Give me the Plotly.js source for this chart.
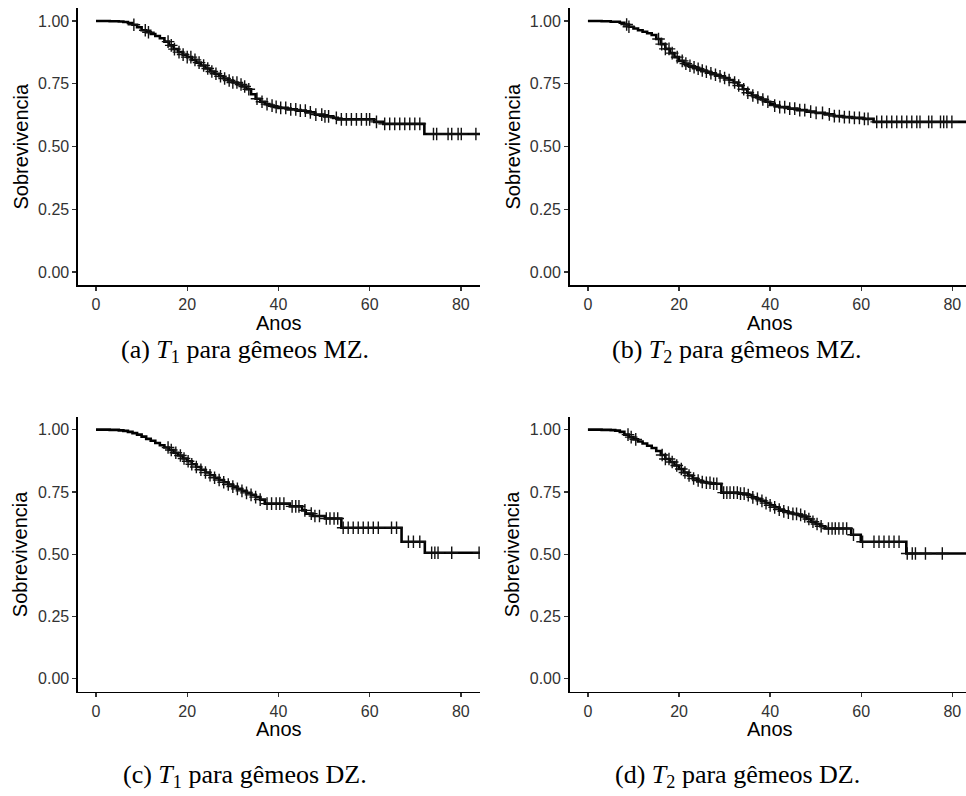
<!DOCTYPE html>
<html>
<head>
<meta charset="utf-8">
<script src="https://cdn.plot.ly/plotly-3.0.1.min.js"></script>
<style>html,body{margin:0;padding:0;background:#fff;}#chart{width:966px;height:796px;}</style>
</head>
<body>
<div id="chart"></div>
<script>
// ---- Data ----
// Panel (a): T1, MZ twins
const aTime = [0, 3, 5, 6, 7, 8, 9, 10, 11, 12, 13, 14, 15, 16, 17, 18, 19, 20, 21, 22, 23, 24, 25, 26, 27, 28, 29, 30, 31, 32, 33, 34, 35, 36, 37, 38, 39, 40, 42, 44, 46, 48, 50, 52, 53, 61, 63, 72, 84.2];
const aSurv = [1.0, 0.999, 0.998, 0.996, 0.992, 0.985, 0.975, 0.963, 0.955, 0.948, 0.940, 0.931, 0.918, 0.903, 0.888, 0.876, 0.866, 0.856, 0.845, 0.834, 0.823, 0.811, 0.799, 0.790, 0.780, 0.771, 0.763, 0.755, 0.747, 0.739, 0.728, 0.708, 0.690, 0.678, 0.669, 0.663, 0.658, 0.654, 0.648, 0.643, 0.636, 0.627, 0.620, 0.614, 0.608, 0.598, 0.590, 0.550, 0.550];
const aCens = [8.3, 10.8, 11.5, 15.8, 16.5, 17.2, 18.2, 19.1, 20.0, 20.8, 21.7, 22.6, 23.6, 24.5, 25.4, 26.3, 27.3, 28.2, 29.2, 30.0, 30.9, 31.8, 32.6, 33.5, 35.3, 36.4, 37.5, 38.6, 39.5, 40.5, 41.6, 42.7, 43.8, 44.8, 45.9, 47.0, 48.2, 49.5, 50.2, 51.0, 52.7, 53.8, 54.9, 56.0, 57.1, 58.2, 59.3, 60.0, 61.5, 63.3, 64.4, 65.5, 66.6, 67.7, 68.8, 69.9, 71.0, 74.0, 74.7, 77.2, 78.0, 79.4, 80.1, 83.3];

// Panel (b): T2, MZ twins
const bTime = [0, 3, 5, 7, 8, 9, 10, 11, 12, 13, 14, 15, 16, 17, 18, 19, 20, 21, 22, 23, 24, 25, 26, 27, 28, 29, 30, 31, 32, 33, 34, 35, 36, 37, 38, 39, 40, 41, 42, 44, 46, 48, 50, 52, 54, 56, 58, 60.5, 62.7, 83.0];
const bSurv = [1.0, 0.999, 0.997, 0.993, 0.986, 0.977, 0.970, 0.963, 0.957, 0.951, 0.944, 0.928, 0.908, 0.889, 0.872, 0.856, 0.841, 0.830, 0.822, 0.816, 0.810, 0.803, 0.798, 0.792, 0.786, 0.780, 0.773, 0.765, 0.755, 0.743, 0.728, 0.714, 0.703, 0.695, 0.687, 0.678, 0.670, 0.663, 0.657, 0.651, 0.645, 0.639, 0.634, 0.628, 0.621, 0.617, 0.614, 0.610, 0.598, 0.598];
const bCens = [8.5, 9.0, 15.5, 16.2, 17.0, 17.8, 18.5, 19.6, 20.7, 21.5, 22.4, 23.3, 24.2, 25.1, 26.0, 27.0, 28.0, 29.0, 30.0, 31.0, 32.2, 33.1, 34.2, 35.1, 36.2, 37.3, 38.4, 39.5, 41.0, 42.1, 43.2, 44.3, 45.4, 46.5, 47.6, 48.9, 50.1, 51.5, 53.0, 54.1, 55.2, 56.3, 57.4, 58.5, 59.6, 60.7, 61.5, 63.4, 64.5, 65.6, 66.7, 67.8, 68.9, 70.0, 71.1, 72.2, 72.9, 74.8, 75.5, 77.4, 78.1, 78.8, 79.9];

// Panel (c): T1, DZ twins
const cTime = [0, 3, 5, 6, 7, 8, 9, 10, 11, 12, 13, 14, 15, 16, 17, 18, 19, 20, 21, 22, 23, 24, 25, 26, 27, 28, 29, 30, 31, 32, 33, 34, 35, 36, 37, 42.5, 45.2, 46, 47.5, 50.2, 53.8, 67, 72.1, 84.2];
const cSurv = [1.0, 0.999, 0.997, 0.995, 0.991, 0.986, 0.980, 0.972, 0.963, 0.955, 0.946, 0.937, 0.928, 0.918, 0.907, 0.896, 0.884, 0.873, 0.861, 0.850, 0.839, 0.828, 0.817, 0.807, 0.798, 0.789, 0.780, 0.771, 0.762, 0.754, 0.746, 0.738, 0.729, 0.719, 0.703, 0.692, 0.676, 0.663, 0.653, 0.643, 0.606, 0.550, 0.506, 0.506];
const cCens = [15.8, 16.5, 17.5, 18.5, 19.3, 20.2, 21.0, 22.0, 23.0, 24.0, 25.0, 26.0, 27.0, 28.0, 29.0, 30.0, 31.0, 32.0, 33.0, 34.0, 35.0, 36.0, 37.5, 38.5, 39.5, 40.3, 41.2, 43.0, 43.8, 44.5, 45.8, 47.2, 48.0, 49.0, 50.5, 51.3, 52.2, 53.0, 54.2, 55.3, 56.4, 57.5, 58.6, 59.7, 60.8, 61.9, 64.8, 65.9, 68.5, 69.6, 71.0, 73.6, 74.3, 75.0, 78.0, 84.0];

// Panel (d): T2, DZ twins
const dTime = [0, 3, 5, 6, 7, 8, 9, 10, 11, 12, 13, 14, 15, 16, 17, 18, 19, 20, 21, 22, 23, 24, 25, 26, 27, 29.3, 33, 35, 36, 37, 38, 39, 40, 41, 42, 43, 44, 45, 46, 47, 48, 49, 50, 51, 52, 57.8, 59.9, 69.9, 83.0];
const dSurv = [1.0, 0.999, 0.998, 0.996, 0.991, 0.980, 0.970, 0.961, 0.952, 0.944, 0.935, 0.926, 0.914, 0.898, 0.882, 0.870, 0.856, 0.842, 0.828, 0.816, 0.804, 0.796, 0.790, 0.787, 0.783, 0.747, 0.743, 0.737, 0.728, 0.722, 0.714, 0.705, 0.696, 0.688, 0.679, 0.672, 0.667, 0.662, 0.658, 0.651, 0.641, 0.630, 0.621, 0.612, 0.603, 0.578, 0.550, 0.503, 0.503];
const dCens = [8.8, 9.5, 10.5, 16.3, 17.0, 17.8, 18.5, 19.5, 20.5, 21.3, 22.2, 23.2, 24.2, 25.1, 26.0, 26.8, 27.6, 28.3, 29.8, 30.5, 31.2, 32.0, 32.8, 33.5, 34.3, 35.2, 36.2, 37.2, 38.2, 39.1, 40.0, 41.0, 42.0, 43.0, 44.0, 45.0, 45.8, 46.7, 47.6, 48.5, 49.4, 50.3, 51.2, 52.8, 53.6, 54.3, 55.1, 56.0, 56.8, 58.3, 60.3, 62.8, 63.9, 65.0, 66.1, 67.2, 68.3, 70.1, 71.2, 71.9, 74.1, 77.8];

const xTicks = [0, 20, 40, 60, 80];
const yTicks = [0, 0.25, 0.5, 0.75, 1.0];
const xTitle = "Anos";
const yTitle = "Sobrevivencia";
const captions = [
  "(a) <i>T</i><sub>1</sub> para gêmeos MZ.",
  "(b) <i>T</i><sub>2</sub> para gêmeos MZ.",
  "(c) <i>T</i><sub>1</sub> para gêmeos DZ.",
  "(d) <i>T</i><sub>2</sub> para gêmeos DZ."
];

// ---- Helpers ----
function stepAt(times, surv, t) {
  let v = surv[0];
  for (let i = 0; i < times.length; i++) { if (times[i] <= t) v = surv[i]; else break; }
  return v;
}

const W = 966, H = 796;
const px = v => v / W;
const py = v => 1 - v / H;

// panel pixel boxes [left, right, top, bottom]
const boxes = [
  [78, 480, 8, 285],
  [569.7, 966, 8, 285],
  [78, 480, 416.7, 691.7],
  [569.7, 966, 416.7, 691.7]
];
const xRanges = [[-3.95, 84.2], [-4.0, 83.0], [-3.95, 84.2], [-4.0, 83.0]];

const series = [
  [aTime, aSurv, aCens],
  [bTime, bSurv, bCens],
  [cTime, cSurv, cCens],
  [dTime, dSurv, dCens]
];

const data = [];
const layout = {
  width: W, height: H,
  margin: {l: 0, r: 0, t: 0, b: 0},
  paper_bgcolor: "#fff", plot_bgcolor: "#fff",
  showlegend: false,
  font: {family: "Liberation Sans, Arial, sans-serif", color: "#000"},
  annotations: []
};

series.forEach((s, i) => {
  const n = i === 0 ? "" : String(i + 1);
  const xa = "x" + n, ya = "y" + n;
  const [time, surv, cens] = s;
  data.push({
    x: time, y: surv, xaxis: xa, yaxis: ya,
    type: "scatter", mode: "lines",
    line: {shape: "hv", color: "#000", width: 2.6},
    hoverinfo: "skip"
  });
  data.push({
    x: cens, y: cens.map(t => stepAt(time, surv, t)), xaxis: xa, yaxis: ya,
    type: "scatter", mode: "markers",
    marker: {symbol: "cross-thin", size: 9, line: {color: "#111", width: 1.4}, color: "#111"},
    hoverinfo: "skip"
  });
  const b = boxes[i];
  layout["xaxis" + n] = {
    domain: [px(b[0]), px(b[1])], anchor: ya, range: xRanges[i],
    tickvals: xTicks, ticktext: xTicks.map(String),
    showline: true, linecolor: "#000", linewidth: 1.6, mirror: false,
    ticks: "outside", ticklen: 4, tickwidth: 1.4, tickcolor: "#333",
    tickfont: {size: 16, color: "#333", family: "Liberation Sans, Arial, sans-serif"},
    showgrid: false, zeroline: false, automargin: false, fixedrange: true
  };
  layout["yaxis" + n] = {
    domain: [py(b[3]), py(b[2])], anchor: xa, range: [-0.0518, 1.0518],
    tickvals: yTicks, ticktext: yTicks.map(v => v.toFixed(2)),
    showline: true, linecolor: "#000", linewidth: 1.6, mirror: false,
    ticks: "outside", ticklen: 4, tickwidth: 1.4, tickcolor: "#333",
    tickfont: {size: 16, color: "#333", family: "Liberation Sans, Arial, sans-serif"},
    showgrid: false, zeroline: false, automargin: false, fixedrange: true
  };
  // axis titles
  const xCenter = i % 2 === 0 ? 279 : 770;
  const yTitleX = i % 2 === 0 ? 20 : 512;
  layout.annotations.push({
    text: xTitle, xref: "paper", yref: "paper",
    x: px(xCenter), y: py(b[3] + 37.5), xanchor: "center", yanchor: "middle",
    showarrow: false, font: {size: 20, color: "#000", family: "Liberation Sans, Arial, sans-serif"}
  });
  layout.annotations.push({
    text: yTitle, xref: "paper", yref: "paper", textangle: -90,
    x: px(yTitleX), y: py((b[2] + b[3]) / 2), xanchor: "center", yanchor: "middle",
    showarrow: false, font: {size: 20, color: "#000", family: "Liberation Sans, Arial, sans-serif"}
  });
  // caption
  const capX = i % 2 === 0 ? 245 : 737;
  const capY = i < 2 ? 351 : 776;
  layout.annotations.push({
    text: captions[i], xref: "paper", yref: "paper",
    x: px(capX), y: py(capY), xanchor: "center", yanchor: "middle",
    showarrow: false, font: {size: 26, color: "#000", family: "Liberation Serif, Times New Roman, serif"}
  });
});

Plotly.newPlot("chart", data, layout, {staticPlot: true, displayModeBar: false});
</script>
</body>
</html>
